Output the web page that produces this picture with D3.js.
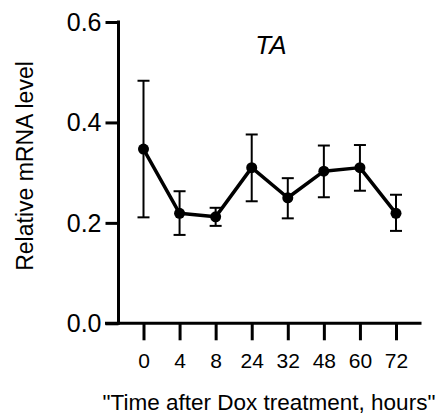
<!DOCTYPE html>
<html>
<head>
<meta charset="utf-8">
<script src="https://cdn.jsdelivr.net/npm/d3@7"></script>
<style>
  body { margin: 0; background: #fff; }
  text { font-family: "Liberation Sans", Arial, sans-serif; fill: #000; }
</style>
</head>
<body>
<script>
// data
var hours = ["0", "4", "8", "24", "32", "48", "60", "72"];
var means = [0.347, 0.219, 0.212, 0.310, 0.250, 0.303, 0.310, 0.219];
var upper = [0.483, 0.263, 0.230, 0.376, 0.289, 0.354, 0.355, 0.256];
var lower = [0.211, 0.176, 0.194, 0.243, 0.209, 0.251, 0.264, 0.184];
var yTicks = [0, 0.2, 0.4, 0.6];

var width = 441, height = 416;
var axisX = 118.5, axisY = 323.3;

var svg = d3.select("body").append("svg")
  .attr("width", width)
  .attr("height", height);

var xScale = d3.scalePoint().domain(hours).range([143.5, 396]);
var yScale = d3.scaleLinear().domain([0, 0.6]).range([axisY, 22]);

// y axis
var yAxis = d3.axisLeft(yScale).tickValues(yTicks).tickFormat(d3.format(".1f")).tickSize(13).tickPadding(4);
var yG = svg.append("g").attr("transform", "translate(" + axisX + ",0)").call(yAxis);
yG.select(".domain").remove();
yG.selectAll(".tick line").attr("stroke", "#000").attr("stroke-width", 3);
yG.selectAll(".tick text").attr("font-size", 25).attr("dy", "0.34em");
svg.append("line")
  .attr("x1", axisX).attr("x2", axisX)
  .attr("y1", yScale(0.6) - 1.5).attr("y2", axisY + 1.5)
  .attr("stroke", "#000").attr("stroke-width", 3);

// x axis
var xAxis = d3.axisBottom(xScale).tickSize(17).tickPadding(13);
var xG = svg.append("g").attr("transform", "translate(0," + axisY + ")").call(xAxis);
xG.select(".domain").remove();
xG.selectAll(".tick line").attr("stroke", "#000").attr("stroke-width", 3);
xG.selectAll(".tick text").attr("font-size", 21);
svg.append("line")
  .attr("x1", 105).attr("x2", 421.5)
  .attr("y1", axisY).attr("y2", axisY)
  .attr("stroke", "#000").attr("stroke-width", 3);

// error bars
var rows = hours.map(function (h, i) {
  return { h: h, m: means[i], hi: upper[i], lo: lower[i] };
});
var eb = svg.append("g").attr("stroke", "#000").attr("stroke-width", 2);
eb.selectAll(".v").data(rows).enter().append("line")
  .attr("x1", function (d) { return xScale(d.h); })
  .attr("x2", function (d) { return xScale(d.h); })
  .attr("y1", function (d) { return yScale(d.hi); })
  .attr("y2", function (d) { return yScale(d.lo); });
eb.selectAll(".ct").data(rows).enter().append("line")
  .attr("x1", function (d) { return xScale(d.h) - 6; })
  .attr("x2", function (d) { return xScale(d.h) + 6; })
  .attr("y1", function (d) { return yScale(d.hi); })
  .attr("y2", function (d) { return yScale(d.hi); });
eb.selectAll(".cb").data(rows).enter().append("line")
  .attr("x1", function (d) { return xScale(d.h) - 6; })
  .attr("x2", function (d) { return xScale(d.h) + 6; })
  .attr("y1", function (d) { return yScale(d.lo); })
  .attr("y2", function (d) { return yScale(d.lo); });

// mean line
var line = d3.line()
  .x(function (d) { return xScale(d.h); })
  .y(function (d) { return yScale(d.m); });
svg.append("path").datum(rows)
  .attr("d", line)
  .attr("fill", "none")
  .attr("stroke", "#000")
  .attr("stroke-width", 3.5)
  .attr("stroke-linejoin", "round");

svg.selectAll("circle").data(rows).enter().append("circle")
  .attr("cx", function (d) { return xScale(d.h); })
  .attr("cy", function (d) { return yScale(d.m); })
  .attr("r", 5.5)
  .attr("fill", "#000");

// titles
svg.append("text")
  .attr("x", 271).attr("y", 54)
  .attr("text-anchor", "middle")
  .attr("font-size", 26)
  .attr("font-style", "italic")
  .text("TA");

svg.append("text")
  .attr("x", 269).attr("y", 410)
  .attr("text-anchor", "middle")
  .attr("font-size", 22.5)
  .text("\"Time after Dox treatment, hours\"");

svg.append("text")
  .attr("transform", "translate(33,166) rotate(-90)")
  .attr("text-anchor", "middle")
  .attr("font-size", 23)
  .text("Relative mRNA level");
</script>
</body>
</html>
